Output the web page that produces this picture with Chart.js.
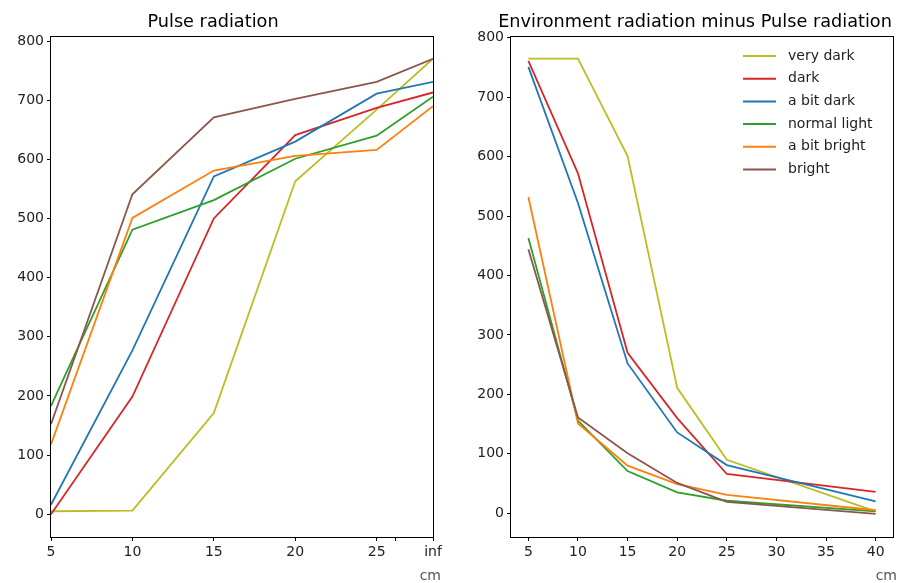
<!DOCTYPE html>
<html>
<head>
<meta charset="utf-8">
<script src="https://cdn.jsdelivr.net/npm/chart.js@4.4.1/dist/chart.umd.min.js"></script>
<style>
  body { margin: 0; background: #fff; }
  .wrap { position: absolute; top: 0; }
</style>
</head>
<body>
<div class="wrap" style="left:0"><canvas id="graficoPulso" width="460" height="583"></canvas></div>
<div class="wrap" style="left:460px"><canvas id="graficoAmbiente" width="444" height="583"></canvas></div>
<script>
// nomes e cores das séries (mesma ordem da legenda)
const nomesSeries = ['very dark', 'dark', 'a bit dark', 'normal light', 'a bit bright', 'bright'];
const coresSeries = ['#bcbd22', '#d62728', '#1f77b4', '#2ca02c', '#ff7f0e', '#8c564b'];

// Pulse radiation: distâncias (cm), "inf" fica em 28.46 no eixo
const pulsoX = [5, 10, 15, 20, 25, 28.46];
const pulsoTicks = [5, 10, 15, 20, 25, 26.17, 28.46];
const pulsoTickLabels = ['5', '10', '15', '20', '25', '', 'inf'];
const pulsoVeryDark = [5, 6, 171, 563, 684, 770];
const pulsoDark = [0, 199, 500, 641, 687, 713];
const pulsoABitDark = [16, 277, 571, 630, 711, 731];
const pulsoNormal = [183, 481, 531, 601, 640, 706];
const pulsoABitBright = [118, 501, 581, 606, 616, 690];
const pulsoBright = [152, 541, 671, 702, 731, 770];

// Environment radiation minus Pulse radiation
const ambienteX = [5, 10, 15, 20, 25, 40];
const ambienteTicks = [5, 10, 15, 20, 25, 30, 35, 40];
const ambienteVeryDark = [765, 765, 601, 211, 90, 3];
const ambienteDark = [761, 572, 270, 160, 66, 36];
const ambienteABitDark = [751, 522, 252, 136, 81, 20];
const ambienteNormal = [463, 156, 71, 35, 21, 3];
const ambienteABitBright = [532, 151, 80, 49, 31, 5];
const ambienteBright = [444, 161, 101, 51, 19, -1];

const yTicks = [0, 100, 200, 300, 400, 500, 600, 700, 800];
const fonte = '"DejaVu Sans", sans-serif';

function montarDatasets(xs, listas) {
    return listas.map((valores, i) => ({
        label: nomesSeries[i],
        data: valores.map((v, j) => ({ x: xs[j], y: v })),
        borderColor: coresSeries[i],
        backgroundColor: coresSeries[i],
        borderWidth: 1.8,
        pointRadius: 0,
        tension: 0,
        order: listas.length - i
    }));
}

// moldura, título, "cm" e legenda no estilo matplotlib
const pluginMoldura = {
    id: 'moldura',
    afterDraw(chart, args, opts) {
        const ctx = chart.ctx;
        const a = chart.chartArea;
        ctx.save();
        ctx.strokeStyle = '#000';
        ctx.lineWidth = 1;
        ctx.strokeRect(Math.round(a.left) - 0.5, Math.round(a.top) + 0.5,
            Math.round(a.right - a.left) + 1, Math.round(a.bottom - a.top));

        ctx.fillStyle = '#000';
        ctx.font = '17.7px ' + fonte;
        ctx.textAlign = 'center';
        ctx.textBaseline = 'alphabetic';
        ctx.fillText(opts.titulo, opts.tituloX, 27);

        ctx.fillStyle = '#555';
        ctx.font = '14px ' + fonte;
        ctx.textAlign = 'right';
        ctx.textBaseline = 'middle';
        ctx.fillText('cm', opts.cmX, 576);

        if (opts.legenda) {
            ctx.textAlign = 'left';
            ctx.fillStyle = '#222';
            chart.data.datasets.forEach((ds, i) => {
                const y = 56 + i * 22.7;
                ctx.strokeStyle = ds.borderColor;
                ctx.lineWidth = 2;
                ctx.beginPath();
                ctx.moveTo(opts.legendaX, y);
                ctx.lineTo(opts.legendaX + 33, y);
                ctx.stroke();
                ctx.fillText(ds.label, opts.legendaX + 45, y);
            });
        }
        ctx.restore();
    }
};

function criarGrafico(id, datasets, xCfg, yMin, yMax, padDireita, extra) {
    const ctx = document.getElementById(id).getContext('2d');
    return new Chart(ctx, {
        type: 'line',
        data: { datasets: datasets },
        plugins: [pluginMoldura],
        options: {
            responsive: false,
            animation: false,
            layout: { padding: { left: 0, right: padDireita, top: 36, bottom: 0 } },
            plugins: {
                legend: { display: false },
                tooltip: { enabled: false },
                moldura: extra
            },
            scales: {
                x: {
                    type: 'linear',
                    min: xCfg.min,
                    max: xCfg.max,
                    afterBuildTicks: s => { s.ticks = xCfg.ticks.map(v => ({ value: v })); },
                    afterFit: s => { s.height = 46; },
                    border: { display: false },
                    grid: { drawOnChartArea: false, drawTicks: true, tickLength: 4, color: '#000' },
                    ticks: {
                        autoSkip: false,
                        maxRotation: 0,
                        padding: 3,
                        color: '#222',
                        font: { family: fonte, size: 14 },
                        callback: xCfg.rotulo
                    }
                },
                y: {
                    min: yMin,
                    max: yMax,
                    afterBuildTicks: s => { s.ticks = yTicks.map(v => ({ value: v })); },
                    afterFit: s => { s.width = 51; },
                    border: { display: false },
                    grid: { drawOnChartArea: false, drawTicks: true, tickLength: 4, color: '#000' },
                    ticks: {
                        padding: 3,
                        color: '#222',
                        font: { family: fonte, size: 14 }
                    }
                }
            }
        }
    });
}

criarGrafico('graficoPulso',
    montarDatasets(pulsoX, [pulsoVeryDark, pulsoDark, pulsoABitDark, pulsoNormal, pulsoABitBright, pulsoBright]),
    {
        min: 5, max: 28.46, ticks: pulsoTicks,
        rotulo: (v) => { const k = pulsoTicks.indexOf(v); return k >= 0 ? pulsoTickLabels[k] : ''; }
    },
    -38.5, 808.5, 27,
    { titulo: 'Pulse radiation', tituloX: 213, cmX: 441, legenda: false });

criarGrafico('graficoAmbiente',
    montarDatasets(ambienteX, [ambienteVeryDark, ambienteDark, ambienteABitDark, ambienteNormal, ambienteABitBright, ambienteBright]),
    { min: 3.25, max: 41.75, ticks: ambienteTicks, rotulo: (v) => String(v) },
    -40, 803, 11,
    { titulo: 'Environment radiation minus Pulse radiation', tituloX: 235, cmX: 437, legenda: true, legendaX: 283 });
</script>
</body>
</html>
